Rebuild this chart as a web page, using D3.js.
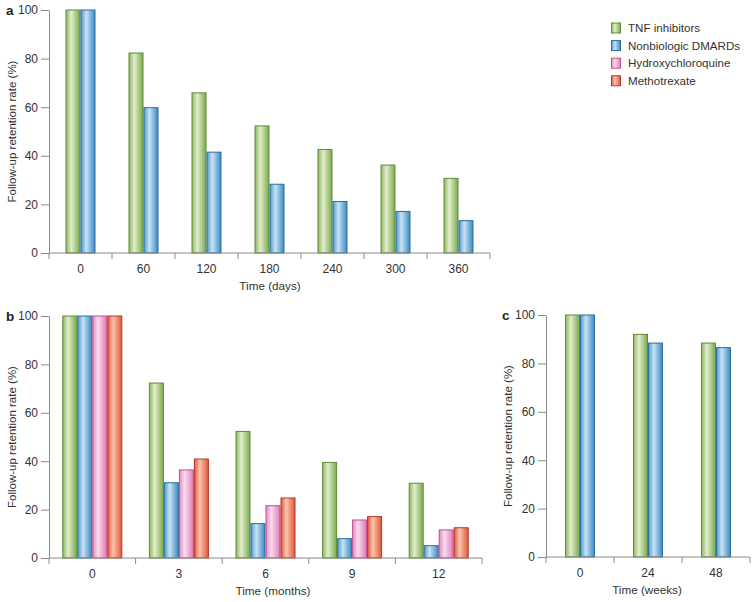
<!DOCTYPE html>
<html><head><meta charset="utf-8">
<script src="https://cdn.jsdelivr.net/npm/d3@7"></script>
<style>
body{margin:0;background:#fff;}
svg{display:block;font-family:"Liberation Sans",Arial,sans-serif;}
</style></head>
<body><svg id="c" width="756" height="602"></svg>
<script>
// ---- data ----
const seriesNames = ["TNF inhibitors","Nonbiologic DMARDs","Hydroxychloroquine","Methotrexate"];
const yTicks = [0,20,40,60,80,100];

const daysA = ["0","60","120","180","240","300","360"];
const tnfA   = [100,82.3,65.9,52.3,42.6,36.2,30.7];
const dmardA = [100,59.8,41.5,28.3,21.2,17.1,13.3];

const monthsB = ["0","3","6","9","12"];
const tnfB   = [100,72.3,52.3,39.5,30.9];
const dmardB = [100,31.1,14.2,8.0,5.1];
const hcqB   = [100,36.4,21.6,15.7,11.6];
const mtxB   = [100,40.9,24.8,17.1,12.5];

const weeksC = ["0","24","48"];
const tnfC   = [100,92.0,88.4];
const dmardC = [100,88.4,86.5];

// ---- styles ----
const palette = [
  {stops:["#8fb85e","#e1eece","#7ba94b"], stroke:"#5f8c38"},
  {stops:["#4f9bcf","#c9e3f4","#3a8ac3"], stroke:"#2b6f9f"},
  {stops:["#e38cc0","#fadcee","#e07ab5"], stroke:"#c0508e"},
  {stops:["#e2583e","#fbc5af","#df573a"], stroke:"#b5362a"}
];
const textCol = "#333";
const axisCol = "#8a8a8a";
const barW = 15;
const FONT = '"Liberation Sans",Arial,sans-serif';

const svg = d3.select("#c");
const defs = svg.append("defs");
palette.forEach((p,i)=>{
  const g = defs.append("linearGradient").attr("id","g"+i)
    .attr("x1","0%").attr("x2","100%").attr("y1","0%").attr("y2","0%");
  g.append("stop").attr("offset","0%").attr("stop-color",p.stops[0]);
  g.append("stop").attr("offset","38%").attr("stop-color",p.stops[1]);
  g.append("stop").attr("offset","100%").attr("stop-color",p.stops[2]);
});

function panel(opt){
  const {cats, series, xr, yr, letter, letterX, xTitle, xTitleX, yTitleX} = opt;
  const x = d3.scaleBand().domain(cats).range(xr).padding(0);
  const y = d3.scaleLinear().domain([0,100]).range(yr);
  const g = svg.append("g");
  const n = series.length;
  const x1 = d3.scaleBand().domain(d3.range(n)).range([0, n*barW]).padding(0);

  // bars
  cats.forEach((c,ci)=>{
    const cx = x(c) + x.bandwidth()/2 - n*barW/2;
    series.forEach((s,si)=>{
      g.append("rect")
        .attr("x", cx + x1(si) + 0.5)
        .attr("y", y(s[ci]))
        .attr("width", x1.bandwidth()-1)
        .attr("height", y(0)-y(s[ci]))
        .attr("fill","url(#g"+si+")")
        .attr("stroke", palette[si].stroke)
        .attr("stroke-width",1);
    });
  });

  // y axis
  const ya = g.append("g").attr("transform",`translate(${xr[0]},0)`)
    .call(d3.axisLeft(y).tickValues(yTicks).tickSize(8).tickSizeOuter(0).tickPadding(3));
  ya.selectAll("path,line").attr("stroke",axisCol);
  ya.selectAll("text").attr("fill",textCol).style("font-size","12px").style("font-family",FONT);

  // x axis
  const xa = g.append("g").attr("transform",`translate(0,${yr[0]})`)
    .call(d3.axisBottom(x).tickSize(0).tickPadding(11));
  xa.select(".domain").remove();
  xa.selectAll("text").attr("fill",textCol).style("font-size","12px").style("font-family",FONT);
  g.append("line").attr("x1",xr[0]).attr("x2",xr[1]).attr("y1",y(0)).attr("y2",y(0))
    .attr("stroke",axisCol);
  const bounds = cats.map(c=>x(c)).concat([xr[1]]);
  g.selectAll(".bt").data(bounds).enter().append("line")
    .attr("x1",d=>d).attr("x2",d=>d).attr("y1",y(0)).attr("y2",y(0)+6)
    .attr("stroke",axisCol);

  // titles
  g.append("text").attr("x",xTitleX).attr("y",y(0)+37).attr("text-anchor","middle")
    .attr("fill",textCol).style("font-size","11.7px").text(xTitle);
  g.append("text").attr("transform",`translate(${yTitleX},${(yr[0]+yr[1])/2}) rotate(-90)`)
    .attr("text-anchor","middle").attr("fill",textCol).style("font-size","11.5px")
    .text("Follow-up retention rate (%)");
  g.append("text").attr("x",letterX).attr("y",y(100)+4.5).attr("fill","#222")
    .style("font-size","13.5px").style("font-weight","bold").text(letter);
}

panel({cats:daysA, series:[tnfA,dmardA], xr:[49,490], yr:[253,10],
  letter:"a", letterX:6, xTitle:"Time (days)", xTitleX:270, yTitleX:16});
panel({cats:monthsB, series:[tnfB,dmardB,hcqB,mtxB], xr:[49,482], yr:[558,316],
  letter:"b", letterX:6, xTitle:"Time (months)", xTitleX:273, yTitleX:16});
panel({cats:weeksC, series:[tnfC,dmardC], xr:[546,750], yr:[557,315],
  letter:"c", letterX:502, xTitle:"Time (weeks)", xTitleX:647, yTitleX:512});

// legend
const lg = svg.append("g");
seriesNames.forEach((name,i)=>{
  const yy = 28 + i*17.6;
  lg.append("rect").attr("x",611.5).attr("y",yy-5).attr("width",9).attr("height",10)
    .attr("fill","url(#g"+i+")").attr("stroke",palette[i].stroke);
  lg.append("text").attr("x",628).attr("y",yy+4.2).attr("fill",textCol)
    .style("font-size","11.6px").text(name);
});
</script></body></html>
